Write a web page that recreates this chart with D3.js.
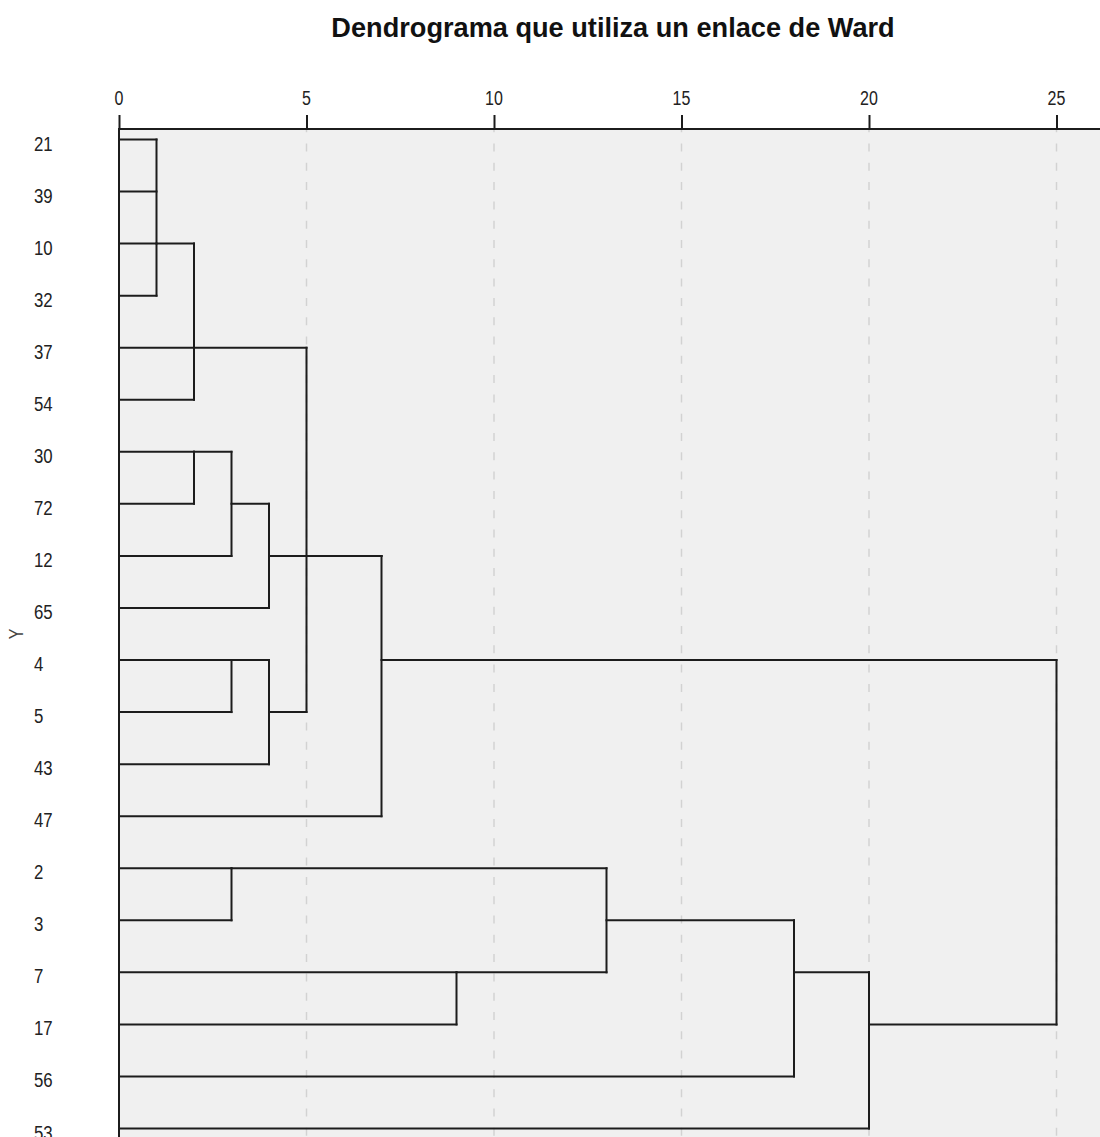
<!DOCTYPE html>
<html>
<head>
<meta charset="utf-8">
<script src="https://cdn.jsdelivr.net/npm/d3@7/dist/d3.min.js"></script>
<style>
  html, body { margin: 0; padding: 0; background: #fff; }
  svg { display: block; }
</style>
</head>
<body>
<div id="chart"></div>
<script>
// ---- data ----
const title = "Dendrograma que utiliza un enlace de Ward";
const axisLabel = "Y";
const leafLabels = ["21","39","10","32","37","54","30","72","12","65","4","5","43","47","2","3","7","17","56","53"];
const tickValues = [0, 5, 10, 15, 20, 25];
// merges (rescaled distance), children are leaf labels or merge ids
const mergeIds = ["A","B","C","D","E","F","G","H","I","J","K","L","M","N","O"];
const mergeChildren = [
  ["21","39","10","32"],
  ["A","37","54"],
  ["30","72"],
  ["C","12"],
  ["D","65"],
  ["4","5"],
  ["F","43"],
  ["B","G"],
  ["E","H","47"],
  ["2","3"],
  ["7","17"],
  ["J","K"],
  ["L","56"],
  ["M","53"],
  ["I","N"]
];
const mergeDistances = [1, 2, 2, 3, 4, 3, 4, 5, 7, 3, 9, 13, 18, 20, 25];
// row (case index) at which each cluster's connector leaves, as drawn
const mergeRows = [2, 4, 6, 7, 8, 10, 11, 8, 10, 14, 16, 15, 16, 17, 13];

// ---- layout ----
const W = 1100, H = 1137;
const plotLeft = 119, plotTop = 129;
const x = d3.scaleLinear().domain([0, 25]).range([plotLeft, 1056.5]);
const y = d3.scaleLinear().domain([0, leafLabels.length - 1]).range([139.5, 1128.5]);

const svg = d3.select("#chart").append("svg").attr("width", W).attr("height", H);

// plot background
svg.append("rect").attr("x", plotLeft).attr("y", plotTop)
  .attr("width", W - plotLeft).attr("height", H - plotTop).attr("fill", "#f0f0f0");

// gridlines
svg.append("g").selectAll("line").data(tickValues.filter(d => d > 0)).join("line")
  .attr("x1", d => x(d)).attr("x2", d => x(d))
  .attr("y1", plotTop).attr("y2", H)
  .attr("stroke", "#d2d2d2").attr("stroke-width", 1.5)
  .attr("stroke-dasharray", "8,11.3").attr("stroke-dashoffset", 4.8);

// node lookup
const nodes = {};
leafLabels.forEach((l, i) => nodes[l] = {row: i, dist: 0});
mergeIds.forEach((id, i) => nodes[id] = {row: mergeRows[i], dist: mergeDistances[i]});

const segs = [];
mergeIds.forEach((id, i) => {
  const d = mergeDistances[i];
  const rows = mergeChildren[i].map(c => nodes[c].row);
  segs.push({x1: d, x2: d, r1: d3.min(rows), r2: d3.max(rows)});
  mergeChildren[i].forEach(c => {
    segs.push({x1: nodes[c].dist, x2: d, r1: nodes[c].row, r2: nodes[c].row});
  });
});

svg.append("g").selectAll("line").data(segs).join("line")
  .attr("x1", d => x(d.x1)).attr("x2", d => x(d.x2))
  .attr("y1", d => y(d.r1)).attr("y2", d => y(d.r2))
  .attr("stroke", "#1c1c1c").attr("stroke-width", 2)
  .attr("stroke-linecap", "square");

// top axis
const axis = svg.append("g").attr("transform", `translate(0,${plotTop})`)
  .call(d3.axisTop(x).tickValues(tickValues).tickSize(14).tickSizeOuter(0).tickFormat(d3.format("d")));
axis.select(".domain").remove();
axis.selectAll(".tick line").attr("stroke", "#1c1c1c").attr("stroke-width", 2);
axis.selectAll(".tick text").remove();
axis.append("line").attr("x1", plotLeft).attr("x2", W).attr("y1", 0).attr("y2", 0)
  .attr("stroke", "#1c1c1c").attr("stroke-width", 2);

// tick labels (condensed)
svg.append("g").selectAll("text").data(tickValues).join("text")
  .attr("transform", d => `translate(${x(d)},105) scale(0.8,1)`)
  .attr("text-anchor", "middle")
  .attr("font-family", "'Liberation Sans', Arial, sans-serif")
  .attr("font-size", 20).attr("fill", "#222")
  .text(d => d);

// left axis line
svg.append("line").attr("x1", plotLeft).attr("x2", plotLeft).attr("y1", plotTop - 1).attr("y2", H)
  .attr("stroke", "#1c1c1c").attr("stroke-width", 2);

// leaf labels
svg.append("g").selectAll("text").data(leafLabels).join("text")
  .attr("transform", (d, i) => `translate(34,${y(i) + 11}) scale(0.8,1)`)
  .attr("font-family", "'Liberation Sans', Arial, sans-serif")
  .attr("font-size", 21).attr("fill", "#222")
  .text(d => d);

// Y axis title
svg.append("text")
  .attr("transform", "translate(23,634) rotate(-90) scale(0.8,1)")
  .attr("text-anchor", "middle")
  .attr("font-family", "'Liberation Sans', Arial, sans-serif")
  .attr("font-size", 20).attr("fill", "#444")
  .text(axisLabel);

// title
svg.append("text")
  .attr("transform", "translate(613,37) scale(0.97,1)")
  .attr("text-anchor", "middle")
  .attr("font-family", "'Liberation Sans', Arial, sans-serif")
  .attr("font-weight", "bold")
  .attr("font-size", 28).attr("fill", "#111")
  .text(title);
</script>
</body>
</html>
